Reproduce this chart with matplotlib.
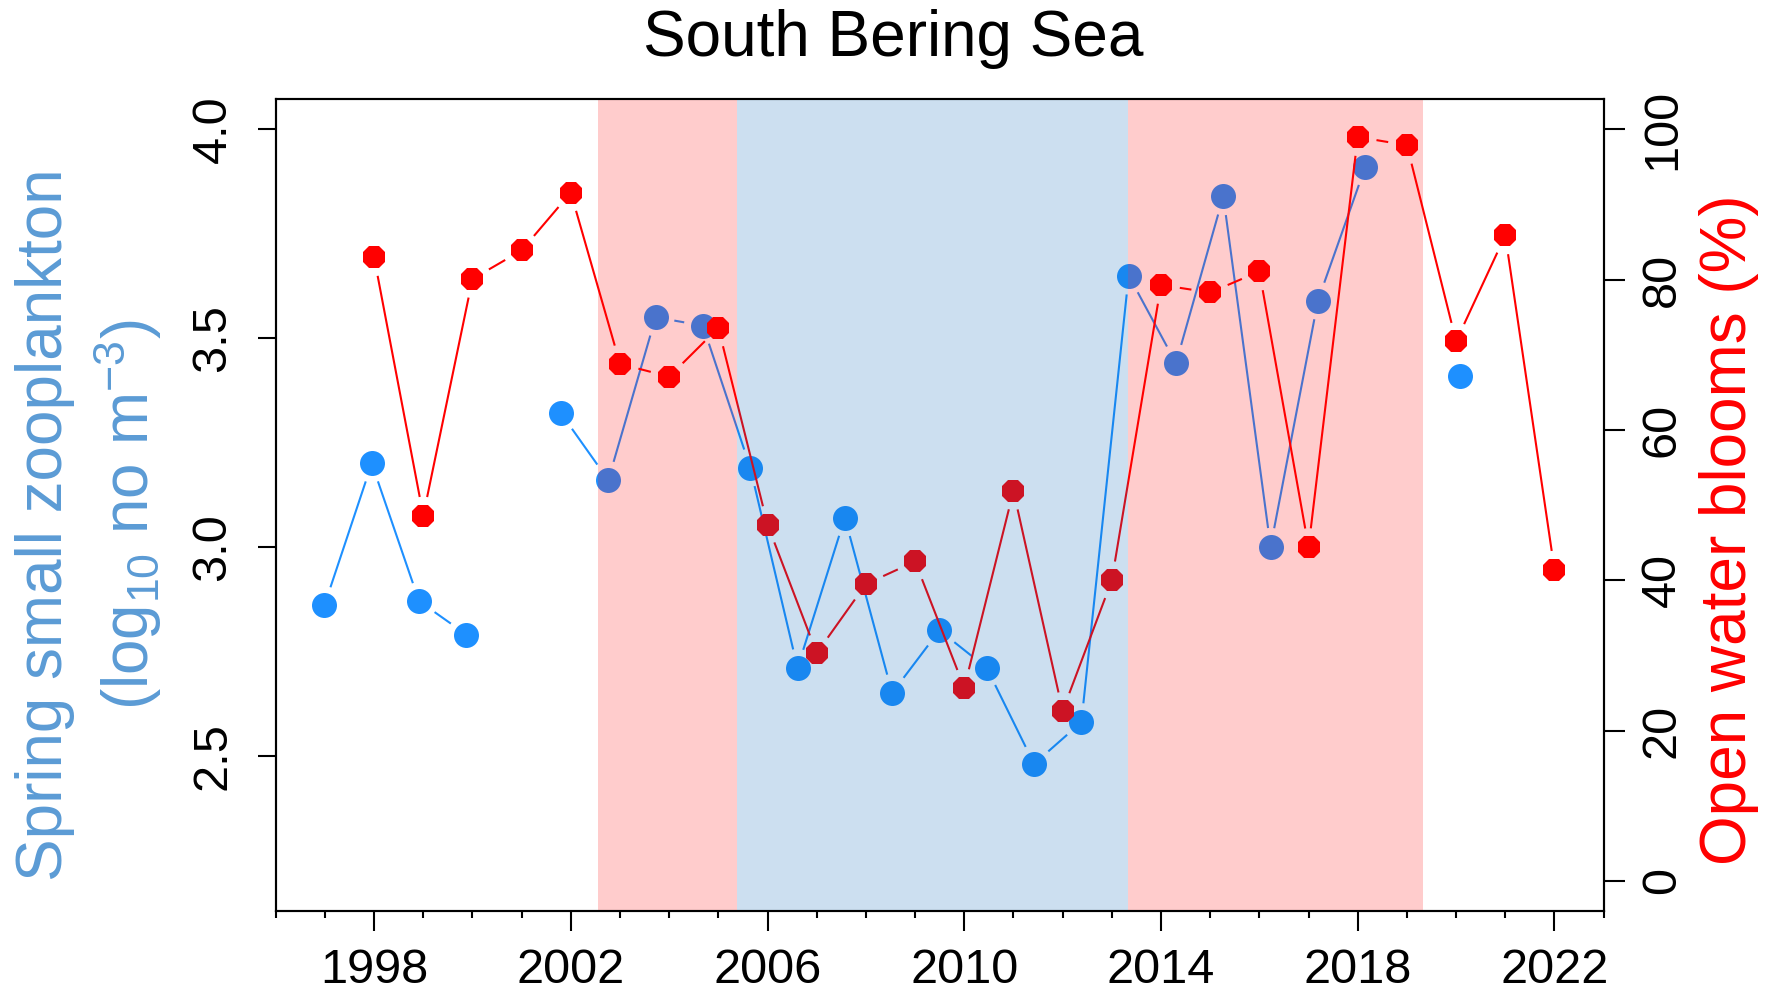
import numpy as np
import matplotlib
matplotlib.use("Agg")
import matplotlib.pyplot as plt

plt.rcParams['font.family'] = ['Liberation Sans', 'DejaVu Sans']
plt.rcParams['mathtext.default'] = 'regular'

# spring small zooplankton (log10 no m-3), left axis
zoo_years = np.arange(1997, 2022)
zoo_vals = np.array([2.86, 3.20, 2.87, 2.79, np.nan, 3.32, 3.16, 3.55, 3.53, 3.19,
                     2.71, 3.07, 2.65, 2.80, 2.71, 2.48, 2.58, 3.65, 3.44, 3.84,
                     3.00, 3.59, 3.91, np.nan, 3.41])

# open water blooms (%), right axis
bloom_years = np.arange(1998, 2023)
bloom_vals = np.array([83.0, 48.6, 80.1, 83.9, 91.6, 68.8, 67.1, 73.6, 47.4, 30.3,
                       39.5, 42.5, 25.7, 51.9, 22.6, 40.0, 79.3, 78.3, 81.1, 44.4,
                       99.0, 97.9, 71.8, 85.9, 41.4])

# shaded periods (warm / cold / warm)
periods = [(2002.55, 2005.38, (1, 0, 0)),
           (2005.38, 2013.32, (0, 0.39, 0.71)),
           (2013.32, 2019.32, (1, 0, 0))]

c_zoo = "#1E90FF"
c_bloom = "red"


def type_b(ax, xs, ys, color, gap=19, lw=1.5):
    # R style type="b": segments stop short of the points
    pts = ax.transData.transform(np.column_stack([xs, ys]))
    inv = ax.transData.inverted()
    for i in range(len(xs) - 1):
        if np.isnan(ys[i]) or np.isnan(ys[i + 1]):
            continue
        d = pts[i + 1] - pts[i]
        L = np.hypot(*d)
        if L <= 2 * gap:
            continue
        u = d / L
        seg = inv.transform([pts[i] + u * gap, pts[i + 1] - u * gap])
        ax.plot(seg[:, 0], seg[:, 1], color=color, lw=lw, zorder=2,
                solid_capstyle='butt')


fig = plt.figure(figsize=(17.72, 9.89), dpi=100)
rect = [0.1556, 0.079, 0.7494, 0.8205]

ax = fig.add_axes(rect)
ax.set_xlim(1995.97, 2024.04)
ax.set_ylim(2.128, 4.072)
ax.set_yticks([2.5, 3.0, 3.5, 4.0])
ax.set_yticklabels(["2.5", "3.0", "3.5", "4.0"], rotation=90, va='center')
ax.tick_params(axis='x', bottom=False, labelbottom=False)
ax.tick_params(axis='y', direction='out', length=13, width=1.5, pad=16,
               labelsize=35)
for s in ax.spines.values():
    s.set_linewidth(1.5)
type_b(ax, zoo_years, zoo_vals, c_zoo)
ax.plot(zoo_years, zoo_vals, 'o', color=c_zoo, ms=18, mew=0, zorder=3)

ax2 = fig.add_axes(rect, facecolor='none')
ax2.set_xlim(1996, 2023)
ax2.set_ylim(-4, 104)
ax2.yaxis.tick_right()
ax2.set_yticks([0, 20, 40, 60, 80, 100])
ax2.set_yticklabels(["0", "20", "40", "60", "80", "100"], rotation=90, va='center')
ax2.set_xticks(np.arange(1998, 2023, 4))
ax2.set_xticks(np.arange(1996, 2024), minor=True)
ax2.tick_params(axis='y', direction='out', length=15, width=1.5, pad=11,
                labelsize=35)
ax2.tick_params(axis='x', which='major', direction='out', length=14.4, width=1.5,
                pad=12, labelsize=35)
ax2.tick_params(axis='x', which='minor', direction='out', length=5, width=1.5)
for s in ax2.spines.values():
    s.set_linewidth(1.5)
    s.set_zorder(6)
type_b(ax2, bloom_years, bloom_vals, c_bloom)
ax2.plot(bloom_years, bloom_vals, '8', color=c_bloom, ms=17, mew=0, zorder=3)

for x0, x1, col in periods:
    ax2.axvspan(x0, x1, color=col, alpha=0.2, lw=0, zorder=5)

fig.text(0.504, 0.943, "South Bering Sea", ha='center', va='baseline', fontsize=46)
fig.text(45 / 1772, 1 - 525 / 989, "Spring small zooplankton", rotation=90,
         ha='center', va='center', fontsize=46, color="#5B9BD5")
fig.text(128 / 1772, 1 - 515 / 989, r"(log$_{10}$ no m$^{-3}$)", rotation=90,
         ha='center', va='center', fontsize=46, color="#5B9BD5")
fig.text(1729 / 1772, 1 - 530 / 989, "Open water blooms (%)", rotation=90,
         ha='center', va='center', fontsize=46, color=c_bloom)

fig.savefig("out.png", dpi=100)
